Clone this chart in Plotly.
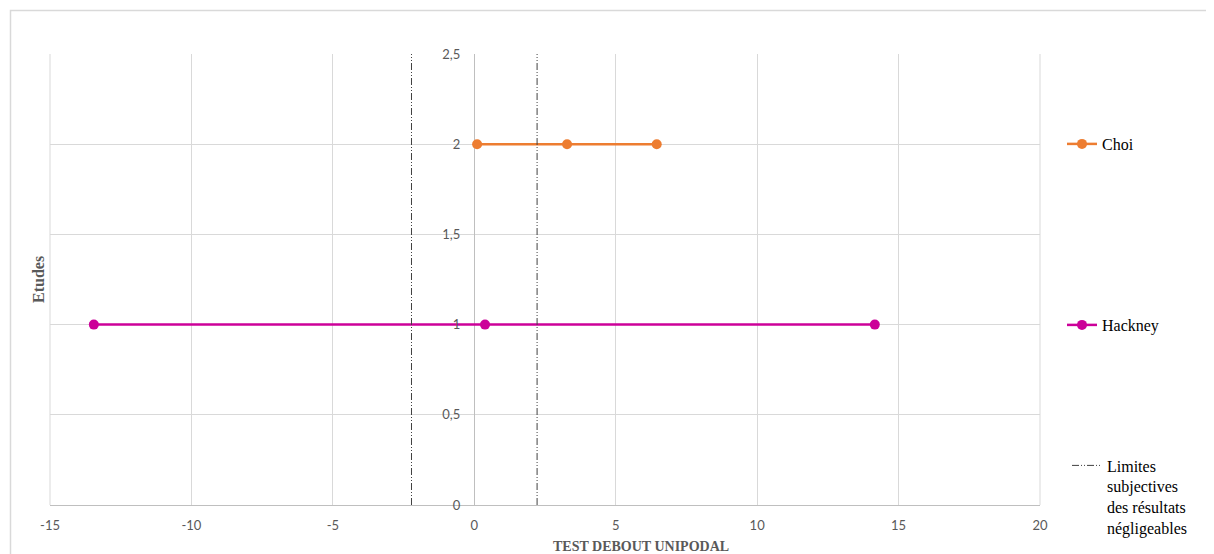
import plotly.graph_objects as go

choi_x = [0.1, 3.28, 6.45]
choi_y = [2, 2, 2]
hackney_x = [-13.45, 0.38, 14.16]
hackney_y = [1, 1, 1]
limit_x = [-2.22, 2.22]
limit_y = [0, 2.5]
x_ticks = [-15, -10, -5, 0, 5, 10, 15, 20]
x_ticktext = ["-15", "-10", "-5", "0", "5", "10", "15", "20"]
y_ticks = [0, 0.5, 1, 1.5, 2, 2.5]

# page body has an 8px margin: the figure is drawn from (8, 8)
OFF = 8
W, H = 1214 - OFF, 554 - OFF
ml, mr, mt, mb = 50 - OFF, 174, 54 - OFF, 49
pw = W - ml - mr
ph = H - mt - mb

def px2x(p):
    return (p - OFF - ml) / pw

def px2y(p):
    return (H - mb - (p - OFF)) / ph

fig = go.Figure()

lx = []
ly = []
for v in limit_x:
    lx += [v, v, None]
    ly += [limit_y[0], limit_y[1], None]

fig.add_trace(go.Scatter(
    x=choi_x, y=choi_y, name="Choi", mode="lines+markers",
    line=dict(color="#ED7D31", width=2.5),
    marker=dict(color="#ED7D31", size=10),
    legend="legend",
))
fig.add_trace(go.Scatter(
    x=hackney_x, y=hackney_y, name="Hackney", mode="lines+markers",
    line=dict(color="#CC0099", width=2.5),
    marker=dict(color="#CC0099", size=10),
    legend="legend2",
))
fig.add_trace(go.Scatter(
    x=lx, y=ly, name="Limites<br>subjectives<br>des résultats<br>négligeables",
    mode="lines",
    line=dict(color="#404040", width=1, dash="7px,2px,1px,2px,1px,2px"),
    legend="legend3",
))

legfont = dict(family="Liberation Serif, Times New Roman, serif", size=16, color="#000000")

fig.update_layout(
    width=W, height=H,
    margin=dict(l=ml, r=mr, t=mt, b=mb, autoexpand=False),
    paper_bgcolor="white", plot_bgcolor="white",
    separators=", ",
    showlegend=True,
    xaxis=dict(
        range=[-15, 20], tickvals=x_ticks, ticktext=x_ticktext,
        showgrid=True, gridcolor="#D9D9D9", gridwidth=1,
        zeroline=True, zerolinecolor="#BFBFBF", zerolinewidth=1,
        showline=True, linecolor="#BFBFBF", linewidth=1,
        ticks="", tickfont=dict(family="Lato, Carlito, sans-serif", size=13, color="#595959"),
        ticklabelstandoff=8, automargin=False,
    ),
    yaxis=dict(
        range=[0, 2.5], tickvals=y_ticks, showgrid=True, gridcolor="#D9D9D9", gridwidth=1,
        zeroline=False, showline=False,
        anchor="free", position=15 / 35,
        ticks="", tickfont=dict(family="Lato, Carlito, sans-serif", size=13, color="#595959"),
        ticklabelstandoff=14, automargin=False,
    ),
    legend=dict(x=px2x(1062), y=px2y(144), xanchor="left", yanchor="middle",
                font=legfont, bgcolor="rgba(0,0,0,0)", itemwidth=30),
    legend2=dict(x=px2x(1062), y=px2y(325), xanchor="left", yanchor="middle",
                 font=legfont, bgcolor="rgba(0,0,0,0)", itemwidth=30),
    legend3=dict(x=px2x(1067), y=px2y(497), xanchor="left", yanchor="middle",
                 font=legfont, bgcolor="rgba(0,0,0,0)", itemwidth=30, valign="top"),
)

# plot edges and outer frame
fig.add_shape(type="line", xref="paper", yref="paper", x0=0, x1=0, y0=0, y1=1,
              line=dict(color="#D9D9D9", width=1), layer="below")
fig.add_shape(type="line", xref="paper", yref="paper", x0=1, x1=1, y0=0, y1=1,
              line=dict(color="#D9D9D9", width=1), layer="below")
fig.add_shape(type="rect", xref="paper", yref="paper",
              x0=px2x(10.5), x1=px2x(1212.5), y0=px2y(10.5), y1=px2y(600),
              line=dict(color="#D9D9D9", width=1.5), layer="below")

fig.add_annotation(text="<b>Etudes</b>", xref="paper", yref="paper",
                   x=px2x(38), y=px2y(280), xanchor="center", yanchor="middle",
                   showarrow=False, textangle=-90,
                   font=dict(family="Liberation Serif, Times New Roman, serif", size=16, color="#595959"))
fig.add_annotation(text="<b>TEST DEBOUT UNIPODAL</b>", xref="paper", yref="paper",
                   x=px2x(641), y=px2y(546), xanchor="center", yanchor="middle",
                   showarrow=False,
                   font=dict(family="Liberation Serif, Times New Roman, serif", size=14, color="#595959"))

fig.write_html("out.html")
